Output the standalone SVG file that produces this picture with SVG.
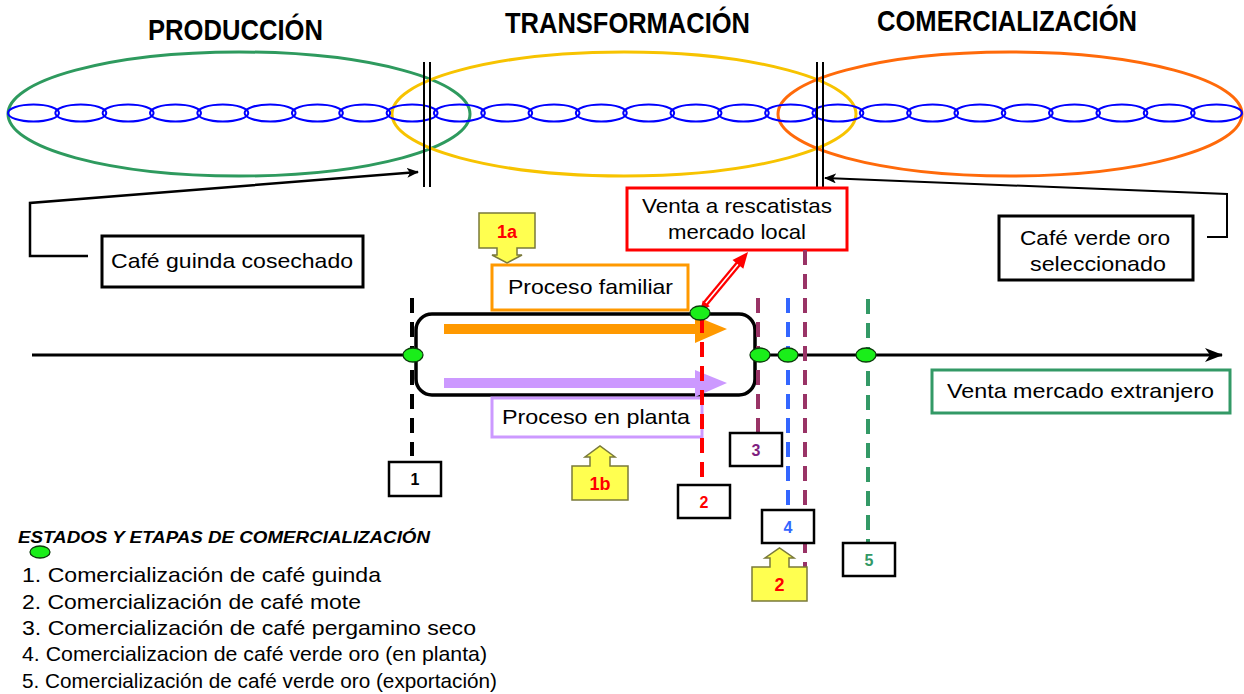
<svg xmlns="http://www.w3.org/2000/svg" width="1244" height="694" viewBox="0 0 1244 694">
  <defs>
    <marker id="arrowBlack" viewBox="0 0 12 10" refX="11" refY="5" markerWidth="12" markerHeight="10" markerUnits="userSpaceOnUse" orient="auto">
      <path d="M0,0 L12,5 L0,10 L3,5 Z" fill="#000"/>
    </marker>
    <marker id="arrowMain" viewBox="0 0 18 14" refX="17" refY="7" markerWidth="18" markerHeight="14" markerUnits="userSpaceOnUse" orient="auto">
      <path d="M0,0 L18,7 L0,14 L5,7 Z" fill="#000"/>
    </marker>
  </defs>
  <style>
    .title { font-family: "Liberation Sans", Arial, sans-serif; font-weight: bold; font-size: 30px; fill: #000; }
    .label { font-family: "Liberation Sans", Arial, sans-serif; font-size: 21px; fill: #000; }
    .legend { font-family: "Liberation Sans", Arial, sans-serif; font-size: 21px; fill: #000; }
    .legendHead { font-family: "Liberation Sans", Arial, sans-serif; font-size: 17px; font-weight: bold; font-style: italic; fill: #000; }
    .num { font-family: "Liberation Sans", Arial, sans-serif; font-size: 16px; font-weight: bold; }
    .box { fill: #fff; stroke-width: 3; }
    .numbox { fill: #fff; stroke: #000; stroke-width: 2.5; }
    .link { fill: none; stroke: #0000ff; stroke-width: 2; }
    .dot { fill: #1aee1a; stroke: #0b3b0b; stroke-width: 1.3; }
    .callout { fill: #ffff50; stroke: #7a7a3a; stroke-width: 1.5; }
    .calloutText { font-family: "Liberation Sans", Arial, sans-serif; font-size: 18px; font-weight: bold; fill: #ff0000; }
    .dash { fill: none; stroke-width: 4; stroke-dasharray: 15 9; }
  </style>

  <!-- stage titles -->
  <g id="titles">
    <text class="title" x="148" y="40" textLength="175" lengthAdjust="spacingAndGlyphs">PRODUCCIÓN</text>
    <text class="title" x="505" y="33" textLength="245" lengthAdjust="spacingAndGlyphs">TRANSFORMACIÓN</text>
    <text class="title" x="877" y="31" textLength="260" lengthAdjust="spacingAndGlyphs">COMERCIALIZACIÓN</text>
  </g>

  <!-- stage ellipses -->
  <g id="stages">
    <ellipse id="produccion" cx="239" cy="114" rx="231" ry="62" fill="none" stroke="#2e9a5e" stroke-width="3"/>
    <ellipse id="transformacion" cx="624" cy="114" rx="232" ry="62" fill="none" stroke="#f7c300" stroke-width="3"/>
    <ellipse id="comercializacion" cx="1010" cy="114" rx="232" ry="62" fill="none" stroke="#ff6a0a" stroke-width="3"/>
  </g>

  <!-- value chain links -->
  <g id="chain">
    <ellipse class="link" cx="33.5" cy="113" rx="25.5" ry="8.5"/>
    <ellipse class="link" cx="80.8" cy="113" rx="25.5" ry="8.5"/>
    <ellipse class="link" cx="128.1" cy="113" rx="25.5" ry="8.5"/>
    <ellipse class="link" cx="175.5" cy="113" rx="25.5" ry="8.5"/>
    <ellipse class="link" cx="222.8" cy="113" rx="25.5" ry="8.5"/>
    <ellipse class="link" cx="270.1" cy="113" rx="25.5" ry="8.5"/>
    <ellipse class="link" cx="317.4" cy="113" rx="25.5" ry="8.5"/>
    <ellipse class="link" cx="364.7" cy="113" rx="25.5" ry="8.5"/>
    <ellipse class="link" cx="412.1" cy="113" rx="25.5" ry="8.5"/>
    <ellipse class="link" cx="459.4" cy="113" rx="25.5" ry="8.5"/>
    <ellipse class="link" cx="506.7" cy="113" rx="25.5" ry="8.5"/>
    <ellipse class="link" cx="554.0" cy="113" rx="25.5" ry="8.5"/>
    <ellipse class="link" cx="601.3" cy="113" rx="25.5" ry="8.5"/>
    <ellipse class="link" cx="648.7" cy="113" rx="25.5" ry="8.5"/>
    <ellipse class="link" cx="696.0" cy="113" rx="25.5" ry="8.5"/>
    <ellipse class="link" cx="743.3" cy="113" rx="25.5" ry="8.5"/>
    <ellipse class="link" cx="790.6" cy="113" rx="25.5" ry="8.5"/>
    <ellipse class="link" cx="837.9" cy="113" rx="25.5" ry="8.5"/>
    <ellipse class="link" cx="885.3" cy="113" rx="25.5" ry="8.5"/>
    <ellipse class="link" cx="932.6" cy="113" rx="25.5" ry="8.5"/>
    <ellipse class="link" cx="979.9" cy="113" rx="25.5" ry="8.5"/>
    <ellipse class="link" cx="1027.2" cy="113" rx="25.5" ry="8.5"/>
    <ellipse class="link" cx="1074.5" cy="113" rx="25.5" ry="8.5"/>
    <ellipse class="link" cx="1121.9" cy="113" rx="25.5" ry="8.5"/>
    <ellipse class="link" cx="1169.2" cy="113" rx="25.5" ry="8.5"/>
    <ellipse class="link" cx="1216.5" cy="113" rx="25.5" ry="8.5"/>
  </g>

  <!-- stage boundaries -->
  <g id="boundaries" stroke="#000" stroke-width="2">
    <line x1="424" y1="62" x2="424" y2="187"/>
    <line x1="430" y1="62" x2="430" y2="187"/>
    <line x1="817" y1="62" x2="817" y2="190"/>
    <line x1="823" y1="62" x2="823" y2="190"/>
  </g>

  <!-- connectors -->
  <g id="connectors">
    <polyline points="88,256 30,256 30,203 418,172" fill="none" stroke="#000" stroke-width="2.5" marker-end="url(#arrowBlack)"/>
    <polyline points="1207,237 1227,237 1227,194 825,178" fill="none" stroke="#000" stroke-width="2" marker-end="url(#arrowBlack)"/>
    <line x1="32" y1="355" x2="1222" y2="355" stroke="#000" stroke-width="3" marker-end="url(#arrowMain)"/>
    <!-- double-line arrow to local market -->
    <line x1="705" y1="304" x2="739" y2="263" stroke="#ff0000" stroke-width="6"/>
    <line x1="705" y1="304" x2="739" y2="263" stroke="#fff" stroke-width="1.6"/>
    <polygon points="748,252 743.3,268.8 732.5,260" fill="#ff0000"/>
    <polygon points="700,311 709.8,306.2 702.8,300.4" fill="#ff0000"/>
  </g>

  <g id="cafe-guinda">
    <rect class="box" x="102" y="236" width="261" height="51" stroke="#000"/>
    <text class="label" x="111" y="268" textLength="242" lengthAdjust="spacingAndGlyphs">Café guinda cosechado</text>
  </g>

  <g id="cafe-verde-oro">
    <rect class="box" x="999" y="216" width="194" height="64" stroke="#000"/>
    <text class="label" x="1020" y="245" textLength="150" lengthAdjust="spacingAndGlyphs">Café verde oro</text>
    <text class="label" x="1030" y="271" textLength="136" lengthAdjust="spacingAndGlyphs">seleccionado</text>
  </g>

  <g id="venta-local">
    <rect class="box" x="627" y="188" width="220" height="62" stroke="#ff0000"/>
    <text class="label" x="642" y="213" textLength="190" lengthAdjust="spacingAndGlyphs">Venta a rescatistas</text>
    <text class="label" x="668" y="239" textLength="138" lengthAdjust="spacingAndGlyphs">mercado local</text>
  </g>

  <g id="proceso-familiar">
    <rect class="box" x="492" y="265" width="196" height="45" stroke="#ff9900"/>
    <text class="label" x="508" y="294" textLength="165" lengthAdjust="spacingAndGlyphs">Proceso familiar</text>
  </g>

  <g id="callout-1a">
    <path class="callout" d="M479,213 H535 V248 H517 V255 H522 L507,263 L492,255 H497 V248 H479 Z"/>
    <text class="calloutText" x="507" y="238" text-anchor="middle">1a</text>
  </g>

  <!-- transformation process -->
  <g id="proceso">
    <rect x="416" y="314" width="339" height="81" rx="16" fill="#fff" stroke="#000" stroke-width="3.5"/>
    <path d="M444,324 H695 V316 L727,329 L695,343 V334 H444 Z" fill="#ff9900"/>
    <path d="M444,378 H695 V370 L727,383 L695,397 V388 H444 Z" fill="#cc99ff"/>
  </g>

  <g id="proceso-planta">
    <rect class="box" x="492" y="398" width="210" height="39" stroke="#cc99ff"/>
    <text class="label" x="502" y="424" textLength="188" lengthAdjust="spacingAndGlyphs">Proceso en planta</text>
  </g>

  <g id="callout-1b">
    <path class="callout" d="M572,500 H628 V466 H610 V457 H615 L600,446 L585,457 H590 V466 H572 Z"/>
    <text class="calloutText" x="600" y="490" text-anchor="middle">1b</text>
  </g>

  <g id="venta-extranjero">
    <rect class="box" x="932" y="370" width="298" height="43" stroke="#339966"/>
    <text class="label" x="947" y="398" textLength="267" lengthAdjust="spacingAndGlyphs">Venta mercado extranjero</text>
  </g>

  <!-- marketing stage markers -->
  <g id="stage-lines">
    <line class="dash" x1="412" y1="298" x2="412" y2="456" stroke="#000"/>
    <line class="dash" x1="702" y1="318" x2="702" y2="485" stroke="#ff0000"/>
    <line class="dash" x1="758" y1="298" x2="758" y2="434" stroke="#993366" stroke-dasharray="14 10"/>
    <line class="dash" x1="788" y1="298" x2="788" y2="506" stroke="#3366ff" stroke-dasharray="14 10"/>
    <line class="dash" x1="805" y1="250" x2="805" y2="584" stroke="#993366" stroke-width="5" stroke-dasharray="43 14"/>
    <line class="dash" x1="868" y1="299" x2="868" y2="544" stroke="#339966" stroke-dasharray="14 10"/>
  </g>

  <g id="stage-1">
    <rect class="numbox" x="389" y="462" width="52" height="34"/>
    <text class="num" x="415" y="485" text-anchor="middle" fill="#000">1</text>
  </g>
  <g id="stage-2">
    <rect class="numbox" x="678" y="485" width="52" height="33"/>
    <text class="num" x="704" y="508" text-anchor="middle" fill="#ff0000">2</text>
  </g>
  <g id="stage-3">
    <rect class="numbox" x="730" y="433" width="52" height="33"/>
    <text class="num" x="756" y="456" text-anchor="middle" fill="#7f1f7f">3</text>
  </g>
  <g id="stage-4">
    <rect class="numbox" x="762" y="510" width="52" height="33"/>
    <text class="num" x="788" y="533" text-anchor="middle" fill="#3366ff">4</text>
  </g>
  <g id="stage-5">
    <rect class="numbox" x="843" y="543" width="52" height="33"/>
    <text class="num" x="869" y="566" text-anchor="middle" fill="#339966">5</text>
  </g>

  <g id="callout-2">
    <path class="callout" d="M752,601 H807 V567 H789 V558 H794 L779.5,548 L765,558 H770 V567 H752 Z"/>
    <text class="calloutText" x="779.5" y="591" text-anchor="middle">2</text>
  </g>

  <!-- transaction points -->
  <g id="transaction-points">
    <ellipse class="dot" cx="413" cy="355" rx="10" ry="7"/>
    <ellipse class="dot" cx="700" cy="313" rx="10" ry="7"/>
    <ellipse class="dot" cx="760" cy="355" rx="10" ry="7"/>
    <ellipse class="dot" cx="788" cy="355" rx="10" ry="7"/>
    <ellipse class="dot" cx="866" cy="355" rx="10" ry="7"/>
  </g>

  <!-- legend -->
  <g id="legend">
    <text class="legendHead" x="18" y="543" textLength="412" lengthAdjust="spacingAndGlyphs">ESTADOS Y ETAPAS DE COMERCIALIZACIÓN</text>
    <ellipse class="dot" cx="40" cy="552" rx="10" ry="6"/>
    <text class="legend" x="22" y="582" textLength="359" lengthAdjust="spacingAndGlyphs">1. Comercialización de café guinda</text>
    <text class="legend" x="22" y="609" textLength="339" lengthAdjust="spacingAndGlyphs">2. Comercialización de café mote</text>
    <text class="legend" x="22" y="635" textLength="454" lengthAdjust="spacingAndGlyphs">3. Comercialización de café pergamino seco</text>
    <text class="legend" x="22" y="661" textLength="465" lengthAdjust="spacingAndGlyphs">4. Comercializacion de café verde oro (en planta)</text>
    <text class="legend" x="22" y="688" textLength="475" lengthAdjust="spacingAndGlyphs">5. Comercialización de café verde oro (exportación)</text>
  </g>
</svg>
